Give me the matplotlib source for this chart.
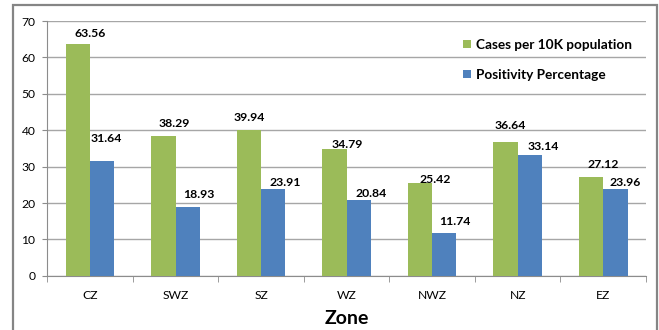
import matplotlib
matplotlib.use("Agg")
import matplotlib.pyplot as plt
import numpy as np
from matplotlib.patches import Rectangle

zones = ["CZ", "SWZ", "SZ", "WZ", "NWZ", "NZ", "EZ"]
cases_per_10k = [63.56, 38.29, 39.94, 34.79, 25.42, 36.64, 27.12]
positivity_pct = [31.64, 18.93, 23.91, 20.84, 11.74, 33.14, 23.96]
y_ticks = [0, 10, 20, 30, 40, 50, 60, 70]

# hand-placed value labels: (dx, dy) in pixels from the top centre of each bar
cases_label_offsets = [(12.5, 11), (11, 13), (0.5, 12.7), (12.4, 4.5), (14.7, 3.3), (4.5, 17.3), (12, 13)]
positivity_label_offsets = [(4.5, 22.5), (10.7, 12.7), (12, 6.5), (12, 6.7), (10.5, 11.7), (13.8, 9), (10, 6.4)]

plt.rcParams["font.family"] = ["Lato", "DejaVu Sans"]

fig = plt.figure(figsize=(6.59, 3.30), dpi=100)
fig.patch.set_facecolor("white")
ax = fig.add_axes([47.2 / 659, 1 - 275.8 / 330, (646 - 47.2) / 659, (275.8 - 21) / 330])

# outer frame around the whole chart
fig.patches.append(Rectangle((12.5 / 659, -0.05), (656.5 - 12.5) / 659, 1 - 5 / 330 + 0.05,
                             transform=fig.transFigure, fill=False,
                             edgecolor="#858585", linewidth=1.6))

x = np.arange(len(zones))
w = 0.284
green = "#9BBB59"
blue = "#4F81BD"
b1 = ax.bar(x - w / 2, cases_per_10k, w, color=green, label="Cases per 10K population", zorder=3)
b2 = ax.bar(x + w / 2, positivity_pct, w, color=blue, label="Positivity Percentage", zorder=3)

for bars, vals, offs in ((b1, cases_per_10k, cases_label_offsets),
                         (b2, positivity_pct, positivity_label_offsets)):
    for r, v, (dx, dy) in zip(bars, vals, offs):
        ax.annotate(f"{v:.2f}", (r.get_x() + r.get_width() / 2, v),
                    xytext=(dx, dy), textcoords="offset pixels",
                    ha="center", va="center", fontsize=8.8, fontweight="bold",
                    zorder=4)

ax.set_xlim(-0.5, len(zones) - 0.5)
ax.set_ylim(0, 70)
ax.set_yticks(y_ticks)
ax.set_xticks(x)
ax.set_xticklabels(zones, fontsize=8.7)
ax.set_xticks(np.arange(len(zones) + 1) - 0.5, minor=True)
ax.tick_params(axis="x", which="major", length=0, pad=10)
ax.tick_params(axis="x", which="minor", length=4, color="#8c8c8c")
ax.tick_params(axis="y", length=3.5, color="#8c8c8c", labelsize=8.7, pad=5)

ax.yaxis.grid(True, color="#a6a6a6", linewidth=1, zorder=0)
ax.set_axisbelow(True)
for s in ("top", "right"):
    ax.spines[s].set_visible(False)
for s in ("left", "bottom"):
    ax.spines[s].set_color("#8c8c8c")

ax.set_xlabel("Zone", fontsize=14, fontweight="bold", labelpad=7)

leg = ax.legend(loc="upper right", bbox_to_anchor=(0.997, 0.978), frameon=False,
                prop={"size": 9.8, "weight": "bold"}, handlelength=0.55, handleheight=0.55,
                handletextpad=0.4, labelspacing=1.3)

fig.savefig("out.png", dpi=100)
